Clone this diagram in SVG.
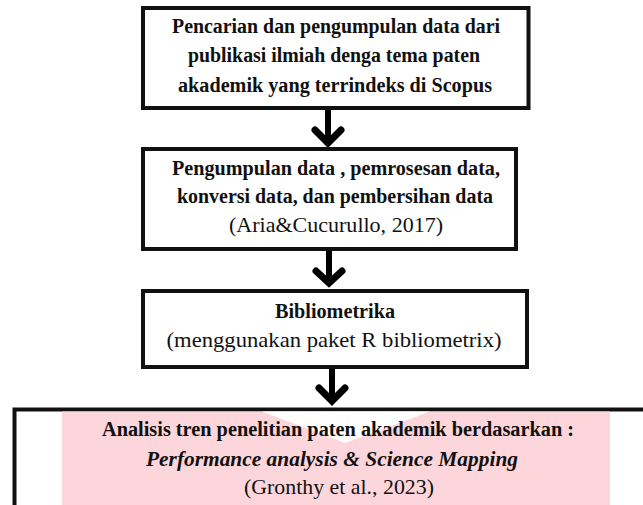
<svg xmlns="http://www.w3.org/2000/svg" width="643" height="505" viewBox="0 0 643 505">
<style>
.box{fill:#fff;stroke:#111;stroke-width:4}
.b{font-weight:bold;font-size:20px;fill:#111;text-anchor:middle}
.r{font-size:22px;fill:#111;text-anchor:middle}
.bi{font-weight:bold;font-style:italic;font-size:20px;fill:#111;text-anchor:middle}
.shaft{stroke:#000;stroke-width:6;fill:none}
.head{stroke:#000;stroke-width:7;fill:none;stroke-linejoin:miter;stroke-linecap:round}
</style>
<rect width="643" height="505" fill="#fff"/>
<g font-family="Liberation Serif, DejaVu Serif, serif">
<g id="node1">
<rect class="box" x="143" y="8" width="385.5" height="100"/>
<text class="b" x="336" y="33" textLength="328" lengthAdjust="spacingAndGlyphs">Pencarian dan pengumpulan data dari</text>
<text class="b" x="334" y="62" textLength="292" lengthAdjust="spacingAndGlyphs">publikasi ilmiah denga tema paten</text>
<text class="b" x="335" y="92" textLength="314" lengthAdjust="spacingAndGlyphs">akademik yang terrindeks di Scopus</text>
</g>
<g id="node2">
<rect class="box" x="143" y="149" width="373" height="100"/>
<text class="b" x="336" y="175" textLength="328" lengthAdjust="spacingAndGlyphs">Pengumpulan data , pemrosesan data,</text>
<text class="b" x="335" y="203" textLength="316" lengthAdjust="spacingAndGlyphs">konversi data, dan pembersihan data</text>
<text class="r" x="336" y="232" textLength="214" lengthAdjust="spacingAndGlyphs">(Aria&amp;Cucurullo, 2017)</text>
</g>
<g id="node3">
<rect class="box" x="143" y="291" width="384" height="76"/>
<text class="b" x="335" y="318" textLength="120" lengthAdjust="spacingAndGlyphs">Bibliometrika</text>
<text class="r" x="334" y="347" textLength="335" lengthAdjust="spacingAndGlyphs">(menggunakan paket R bibliometrix)</text>
</g>
<g id="node4">
<rect class="box" x="14.5" y="409.5" width="640" height="120"/>
<rect x="62" y="411.5" width="548" height="100" fill="#fcd6da"/>
<polygon points="262,411.5 345,443 430,411.5" fill="#fff"/>
<text class="b" x="338" y="436" textLength="472" lengthAdjust="spacingAndGlyphs">Analisis tren penelitian paten akademik berdasarkan :</text>
<text class="bi" x="332" y="466" textLength="372" lengthAdjust="spacingAndGlyphs">Performance analysis &amp; Science Mapping</text>
<text class="r" x="339" y="494" textLength="190" lengthAdjust="spacingAndGlyphs">(Gronthy et al., 2023)</text>
</g>
</g>
<g id="connectors">
<line class="shaft" x1="328" y1="110" x2="328" y2="143"/>
<polyline class="head" points="315,130 328,143 341,130"/>
<line class="shaft" x1="329" y1="251" x2="329" y2="283"/>
<polyline class="head" points="316,271 329,283 342,271"/>
<line class="shaft" x1="332" y1="369" x2="332" y2="401"/>
<polyline class="head" points="319,388 332,401 345,388"/>
</g>
</svg>
